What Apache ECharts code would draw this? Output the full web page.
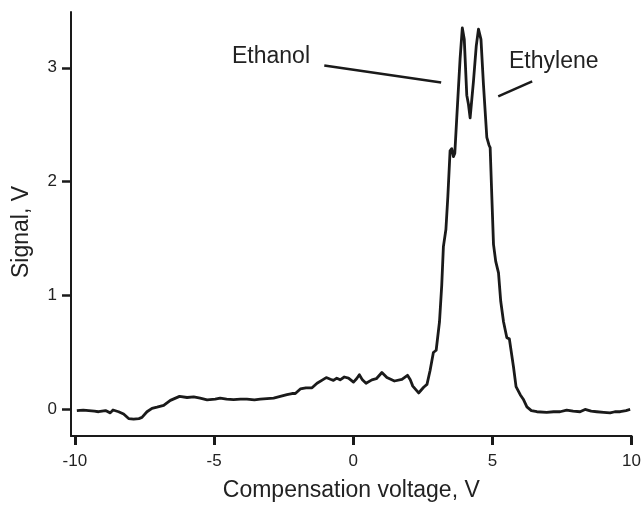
<!DOCTYPE html>
<html>
<head>
<meta charset="utf-8">
<script src="https://cdn.jsdelivr.net/npm/echarts@6/dist/echarts.min.js"></script>
<style>
html,body{margin:0;padding:0;background:#fff;}
#chart{width:644px;height:507px;}
</style>
</head>
<body>
<div id="chart"></div>
<script>
// Compensation voltage (V)
var voltage = [
  -9.93,-9.70,-9.50,-9.30,-9.15,-8.90,-8.73,-8.63,-8.43,-8.25,-8.07,-7.89,-7.70,-7.59,-7.41,-7.23,-7.05,-6.81,-6.57,-6.24,
  -5.97,-5.73,-5.50,-5.25,-4.96,-4.78,-4.55,-4.30,-4.05,-3.82,-3.55,-3.34,-3.10,-2.86,-2.62,-2.38,-2.20,-2.08,-1.90,-1.70,
  -1.48,-1.30,-1.10,-0.97,-0.82,-0.71,-0.59,-0.47,-0.32,-0.17,0.01,0.12,0.22,0.33,0.46,0.67,0.83,1.03,1.21,1.48,
  1.75,1.95,2.05,2.14,2.35,2.53,2.65,2.70,2.76,2.88,2.98,3.10,3.18,3.24,3.33,3.40,3.48,3.54,3.60,3.65,
  3.72,3.84,3.92,3.99,4.08,4.14,4.20,4.26,4.32,4.42,4.50,4.59,4.68,4.80,4.88,4.92,4.98,5.04,5.12,5.22,
  5.30,5.40,5.52,5.61,5.76,5.85,6.00,6.11,6.24,6.40,6.60,6.95,7.20,7.43,7.67,7.90,8.15,8.33,8.55,8.75,
  9.00,9.23,9.40,9.59,9.80,9.95
];
// Signal (V)
var signal = [
  -0.01,-0.005,-0.01,-0.015,-0.02,-0.01,-0.03,-0.005,-0.02,-0.04,-0.08,-0.085,-0.08,-0.07,-0.02,0.01,0.02,0.035,0.08,0.115,
  0.105,0.11,0.10,0.085,0.09,0.10,0.09,0.086,0.09,0.09,0.085,0.09,0.095,0.10,0.115,0.13,0.14,0.14,0.18,0.19,
  0.19,0.23,0.26,0.28,0.265,0.255,0.275,0.26,0.285,0.275,0.24,0.27,0.305,0.26,0.23,0.26,0.27,0.325,0.28,0.25,
  0.265,0.30,0.26,0.205,0.145,0.195,0.22,0.225,0.34,0.50,0.52,0.77,1.09,1.43,1.58,1.87,2.27,2.29,2.22,2.25,
  2.56,3.08,3.35,3.25,2.76,2.68,2.56,2.72,2.88,3.19,3.34,3.25,2.85,2.39,2.32,2.30,1.87,1.45,1.30,1.20,
  0.95,0.77,0.63,0.62,0.37,0.20,0.13,0.09,0.023,-0.01,-0.02,-0.025,-0.02,-0.02,-0.005,-0.015,-0.02,0.0,-0.015,-0.02,
  -0.025,-0.03,-0.02,-0.02,-0.01,0.0
];
var xTicks = [-10, -5, 0, 5, 10];
var yTicks = [0, 1, 2, 3];
var xTitle = 'Compensation voltage, V';
var yTitle = 'Signal, V';
var labelEthanol = 'Ethanol';
var labelEthylene = 'Ethylene';
// annotation pointer lines in data coordinates
var ethanolPointer = [[-1.04, 3.02], [3.16, 2.87]];
var ethylenePointer = [[5.21, 2.75], [6.43, 2.88]];

var pts = voltage.map(function (v, i) { return [v, signal[i]]; });
var font = "'Liberation Sans', Arial, sans-serif";
var ink = '#1a1a1a';

var chart = echarts.init(document.getElementById('chart'), null, {renderer: 'canvas'});
chart.setOption({
  animation: false,
  backgroundColor: '#ffffff',
  grid: {left: 71, right: 12, top: 12, bottom: 64, containLabel: false},
  xAxis: {
    type: 'value', min: -10.14, max: 10,
    splitLine: {show: false},
    axisLine: {show: true, onZero: false, lineStyle: {color: ink, width: 2}},
    axisTick: {show: true, customValues: xTicks, length: 9, lineStyle: {color: ink, width: 3}},
    axisLabel: {customValues: xTicks, margin: 17, color: '#222', fontSize: 17, fontFamily: font},
    name: xTitle, nameLocation: 'middle', nameGap: 43,
    nameTextStyle: {color: '#222', fontSize: 23, fontFamily: font}
  },
  yAxis: {
    type: 'value', min: -0.233, max: 3.49,
    splitLine: {show: false},
    axisLine: {show: true, onZero: false, lineStyle: {color: ink, width: 2}},
    axisTick: {show: true, customValues: yTicks, length: 9, lineStyle: {color: ink, width: 2.5}},
    axisLabel: {customValues: yTicks, margin: 14, color: '#222', fontSize: 17, fontFamily: font},
    name: yTitle, nameLocation: 'middle', nameGap: 38,
    nameTextStyle: {color: '#222', fontSize: 23, fontFamily: font, padding: [0, 0, 0, -16]}
  },
  series: [{
    type: 'line', data: pts, showSymbol: false, symbol: 'none',
    lineStyle: {color: ink, width: 2.8, join: 'round'},
    markLine: {
      silent: true, symbol: ['none', 'none'], label: {show: false},
      lineStyle: {color: ink, width: 2.5, type: 'solid'},
      data: [
        [{coord: ethanolPointer[0]}, {coord: ethanolPointer[1]}],
        [{coord: ethylenePointer[0]}, {coord: ethylenePointer[1]}]
      ]
    }
  }],
  graphic: [
    {type: 'text', left: 232, top: 45, style: {text: labelEthanol, fill: '#222', font: "23px " + font}},
    {type: 'text', left: 509, top: 50, style: {text: labelEthylene, fill: '#222', font: "23px " + font}}
  ]
});
</script>
</body>
</html>
